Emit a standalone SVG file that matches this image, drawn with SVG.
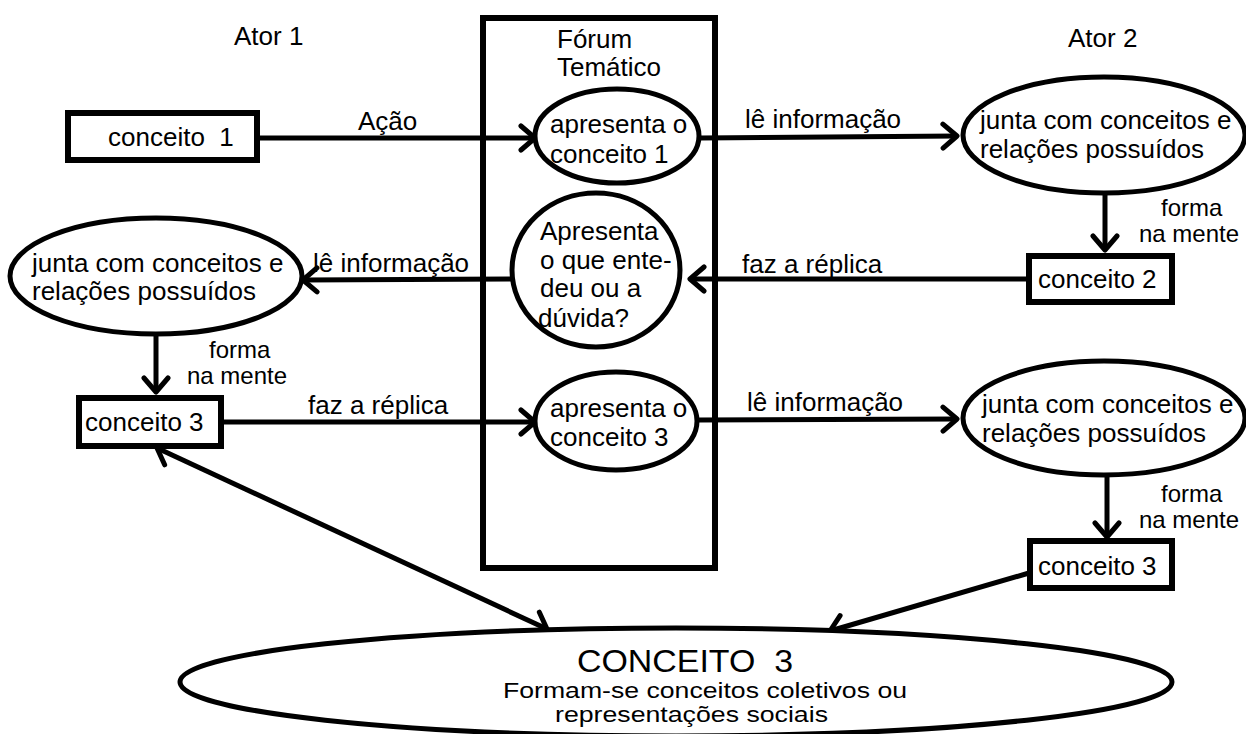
<svg xmlns="http://www.w3.org/2000/svg" width="1246" height="734" viewBox="0 0 1246 734">
<style>
.t{font-family:"Liberation Sans",Arial,sans-serif;font-size:26px;fill:#000}
.s{font-size:24px}
.shape{fill:#fff;stroke:#000;stroke-width:5}
.box{fill:#fff;stroke:#000;stroke-width:6}
.conn{fill:none;stroke:#000;stroke-width:5;marker-end:url(#ah)}
</style>
<defs>
<marker id="ah" markerUnits="userSpaceOnUse" markerWidth="30" markerHeight="30" refX="20" refY="15" orient="auto-start-reverse">
<path d="M6,3 L20,15 L6,27" fill="none" stroke="#000" stroke-width="5" stroke-linecap="round" stroke-linejoin="round"/>
</marker>
</defs>
<rect width="1246" height="734" fill="#fff"/>

<g id="labels">
<text class="t" x="234" y="45">Ator 1</text>
<text class="t" x="1068" y="47">Ator 2</text>
</g>

<g id="forum">
<rect x="483" y="18" width="232" height="550" fill="none" stroke="#000" stroke-width="6"/>
<text class="t" x="557" y="48">Fórum</text>
<text class="t" x="557" y="76">Temático</text>
</g>

<g id="connectors">
<line class="conn" x1="258" y1="138" x2="535" y2="138"/>
<text class="t" x="358" y="130">Ação</text>
<line class="conn" x1="700" y1="138" x2="957" y2="136"/>
<text class="t" x="745" y="128">lê informação</text>
<line class="conn" x1="1105" y1="193" x2="1105" y2="250"/>
<text class="t s"><tspan x="1161" y="216">forma</tspan><tspan x="1139" y="242">na mente</tspan></text>
<line class="conn" x1="1028" y1="279" x2="690" y2="279"/>
<text class="t" x="742" y="273">faz a réplica</text>
<line class="conn" x1="512" y1="279" x2="303" y2="280"/>
<text class="t" x="313" y="272">lê informação</text>
<line class="conn" x1="156" y1="335" x2="156" y2="392"/>
<text class="t s"><tspan x="209" y="358">forma</tspan><tspan x="187" y="384">na mente</tspan></text>
<line class="conn" x1="222" y1="422" x2="535" y2="422"/>
<text class="t" x="308" y="414">faz a réplica</text>
<line class="conn" x1="698" y1="420" x2="957" y2="419"/>
<text class="t" x="747" y="411">lê informação</text>
<line class="conn" x1="1107" y1="475" x2="1107" y2="537"/>
<text class="t s"><tspan x="1161" y="502">forma</tspan><tspan x="1139" y="528">na mente</tspan></text>
<line class="conn" x1="1029" y1="573" x2="830" y2="631"/>
<line class="conn" x1="157" y1="448" x2="547" y2="629" marker-start="url(#ah)"/>
</g>

<g id="conceito1">
<rect class="box" x="68" y="113" width="189" height="47"/>
<text class="t" x="108" y="146">conceito&#160; 1</text>
</g>

<g id="apresenta1">
<ellipse class="shape" cx="617" cy="136" rx="82" ry="47"/>
<text class="t" x="550" y="133">apresenta o</text>
<text class="t" x="550" y="163">conceito 1</text>
</g>

<g id="junta2a">
<ellipse class="shape" cx="1104" cy="135" rx="141" ry="58"/>
<text class="t" x="980" y="129">junta com conceitos e</text>
<text class="t" x="980" y="158">relações possuídos</text>
</g>

<g id="conceito2">
<rect class="box" x="1029" y="256" width="143" height="46"/>
<text class="t" x="1038" y="288">conceito 2</text>
</g>

<g id="apresentaDuvida">
<ellipse class="shape" cx="596" cy="270" rx="84" ry="77"/>
<text class="t" x="540" y="240">Apresenta</text>
<text class="t" x="540" y="269">o que ente-</text>
<text class="t" x="540" y="297">deu ou a</text>
<text class="t" x="538" y="327">dúvida?</text>
</g>

<g id="junta1">
<ellipse class="shape" cx="156" cy="276" rx="146" ry="58"/>
<text class="t" x="32" y="272">junta com conceitos e</text>
<text class="t" x="32" y="300">relações possuídos</text>
</g>

<g id="conceito3a">
<rect class="box" x="79" y="398" width="142" height="48"/>
<text class="t" x="85" y="431">conceito 3</text>
</g>

<g id="apresenta3">
<ellipse class="shape" cx="616" cy="421" rx="81" ry="49"/>
<text class="t" x="550" y="417">apresenta o</text>
<text class="t" x="550" y="446">conceito 3</text>
</g>

<g id="junta2b">
<ellipse class="shape" cx="1104" cy="418" rx="141" ry="57"/>
<text class="t" x="982" y="413">junta com conceitos e</text>
<text class="t" x="982" y="442">relações possuídos</text>
</g>

<g id="conceito3b">
<rect class="box" x="1030" y="541" width="142" height="47"/>
<text class="t" x="1038" y="575">conceito 3</text>
</g>

<g id="conceitoColetivo">
<ellipse class="shape" cx="676" cy="682" rx="496" ry="54"/>
<text class="t" x="577" y="672" style="font-size:32px" textLength="216" lengthAdjust="spacingAndGlyphs">CONCEITO&#160; 3</text>
<text class="t" x="503" y="698" style="font-size:22px" textLength="404" lengthAdjust="spacingAndGlyphs">Formam-se conceitos coletivos ou</text>
<text class="t" x="555" y="722" style="font-size:22px" textLength="273" lengthAdjust="spacingAndGlyphs">representações sociais</text>
</g>
</svg>
